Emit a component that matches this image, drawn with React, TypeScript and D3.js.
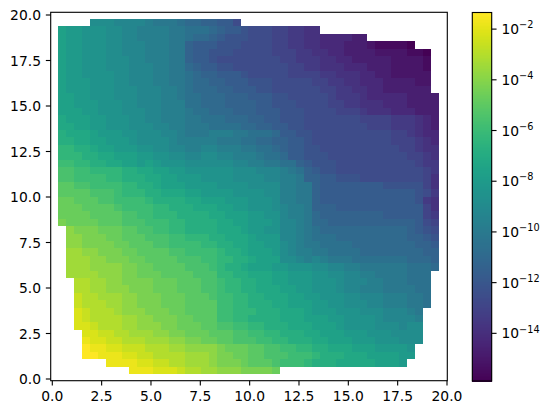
import React from "react";
import * as d3 from "d3";

// One code per cell (0-9a-z): heat level, '.' = no data. Spaces only group columns.
const levelRows = [
  ".... hhhg gggf eeed ccbb aa8. .... .... .... .... .... ....",
  "kjji iihh ggff ffee dddc baa9 8887 7665 5... .... .... ....",
  "kjji iihh ggff ffee dccb a999 8887 7665 5444 433. .... ....",
  "kjji iihh gggf ffee baaa 9998 8887 7665 5444 3332 1111 0...",
  "kjji iihh gggf ffee baa9 9988 8887 7766 5544 3333 2222 110.",
  "kjji iihh hggf ffee baa9 8888 8888 7766 6554 4333 3322 221.",
  "kjji iihh hggg ffee cbaa 9988 8888 8776 6555 4443 3322 221.",
  "kjji iiih hggg ffee dcbb aaa9 8888 8777 7665 5544 3322 222.",
  "kjjj iiih hggg ffee dccb baaa 9998 8888 7766 5544 4333 322.",
  "kjjj iiih hhgg gffe dccc bbaa a998 8888 8776 6554 4333 333.",
  "kkjj iiih hhgg gffe ddcc cbbb aaa9 9888 8876 6654 4444 3333",
  "kkjj jiii hhgg gfff ddcc cbbb baa9 9988 8877 6655 5444 3333",
  "kkkj jiii hhhg gfff eddc ccbb baaa 9998 8887 7765 5544 4333",
  "lkkk jjii ihhg gfff eedd dccc bbaa 9998 8888 8877 7766 6543",
  "llkk jjii ihhh ggff eeed dddc cbba a998 8888 8887 7766 6543",
  "mlll kjjj iihh hggf eeef ffee dddc aa99 8888 8888 8877 6544",
  "mmll kkjj jihh hhgf ffff eeed dccb baa9 8888 8888 8877 7654",
  "nnmm lkkj jjii hhgg ffgg fffe eddc baa9 9888 8888 8887 7655",
  "nnnm mllk kkjj iihh gghh ggff fedd caa9 9988 8888 8888 7765",
  "oonn mmll kkjk jiii hhhh hhgg ffee ddba 9998 8888 8888 8766",
  "ppoo nnnn mmll kkjj iiii iihh hggg fedb a998 8888 8888 8876",
  "ppoo oonn mmml lkkj jjii iihh hhgg ffeb baa9 9988 8888 8875",
  "qqpp oooo nnmm lkkk jjjj iiii hhhh ffee baaa aaaa a999 9975",
  "qqqq pppo nnnm mlll kkjj jjii iihh ffee baaa aaaa aaaa a986",
  "rrqq qppo ooon mmmm llkk kjjj iiih ffee baaa aaaa aaaa a965",
  "rrrq qqqp oooo nnmm mlll kkjj iiih gffe bbba aaaa aaaa aa75",
  "rrrr qqqq ppoo nnnm mmml lkkk jjii gffe cbbb bbbb baaa aa76",
  "srrr rqqq pppo oonn mmmm llkk jjji ggfe ccbb bbbb bbbb ba87",
  ".tss srrr qqpp oonn mmmm lllk jjii ggfe dccc cccc cccc ba98",
  ".tts ssrr qqqp ppoo nnnm mlll kjjj ggfe dddc cccc cccc bba9",
  ".tts sssr rqqq ppoo oonn mmll kkjj hgfe eddd dccc cccc cbba",
  ".uut tsss rrqq qqpp oooo nmml kkkj hgff eedd ddcc cccc ccbb",
  ".uuu ttss srrq qqqp ppoo nnmm lkkk hhgf gfee eddd dddd cccb",
  ".uuu tttt ssrr qqqq pppo nmml kkkj jiii hhgg ffee eeee dddc",
  ".uuu uttt ssrr rqqq qppp nnmm lllk kjjj iihh ggff eeee ddd.",
  "..vv uutt ssss rrrq qqpp onnm mllk kjjj iiih gggf feee ddd.",
  "..vv uutt tsss rrrq qqpp onnm mlll kkjj iiih ggff feee edd.",
  "..wv vuuu ttss srrr qqqp oonn mmll lkkj jiii hhgg gfff eed.",
  "..wv vvuu ttss srrr qqqq oonn mmml lkkk jjii hhhg gfff eed.",
  "..xw vvvu ttts ssrr qqqq oonn nmmm lllk jjji iihh hggg fe..",
  "..xw vvvv uutt sssr rqqq oonn mmmm lllk kkjj iiii hggg gf..",
  "..xx wvvv uutt tssr rrqq ppoo nnmm mlll kkkj iiii hhhg hh..",
  "...x xwwv vuuu ttss rrrq qqpp oonn mmml lkkk jjji iihh hh..",
  "...y xxww vvvu uutt ssrr qqpp poon nmmm llkk kjjj iiih hh..",
  "...z yyxx wwwv vvuu tttt srrr qqpp oonn mmll lkkk jjjj i...",
  "...z zyyy xxww vvvv uuut ssrr qqpp pooo nmmm lllk kkkj j...",
  ".... ..yy yyxx wwvv uuut sssr qqqp ooon mmml llll kkkj ....",
  ".... .... .yyy xxxw vvuu ttts sssr .... .... .... .... ....",
];

const xTicks = [0, 2.5, 5, 7.5, 10, 12.5, 15, 17.5, 20];
const yTicks = [0, 2.5, 5, 7.5, 10, 12.5, 15, 17.5, 20];
const colorbarExponents = [-2, -4, -6, -8, -10, -12, -14];
const minExponent = -15.88;
const maxExponent = -1.345;
const levelCount = 35;
const codes = "0123456789abcdefghijklmnopqrstuvwxyz";

const W = 549;
const H = 415;
const FONT = "'DejaVu Sans'";
const FS = 13.89;

const box = { l: 50.7, r: 447.3, t: 12.3, b: 380.7 };
const x = d3.scaleLinear().domain([0, 20]).range([52.3, 447]);
const y = d3.scaleLinear().domain([0, 20]).range([379, 15]);
const xGrid = d3.scaleLinear().domain([0, 48]).range([0.29, 19.59]);
const yGrid = d3.scaleLinear().domain([0, 48]).range([19.78, 0.27]);
const color = d3
  .scaleSequentialLog(d3.interpolateViridis)
  .domain([Math.pow(10, minExponent), Math.pow(10, maxExponent)]);

const cb = { l: 472.3, r: 491.7, t: 12.5, b: 381 };
const cbY = d3.scaleLinear().domain([minExponent, maxExponent]).range([cb.b, cb.t]);

const cells = levelRows.flatMap((row, r) => {
  const chars = row.replace(/ /g, "").split("");
  return chars.flatMap((ch, c) => {
    if (ch === ".") return [];
    const exponent = minExponent + (codes.indexOf(ch) / levelCount) * (maxExponent - minExponent);
    return [{ r, c, value: Math.pow(10, exponent) }];
  });
});

export default function App() {
  const tick = 4.86;
  const pad = 4.86;
  return (
    <svg
      width={W}
      height={H}
      viewBox={`0 0 ${W} ${H}`}
      style={{ position: "absolute", left: 0, top: 0, background: "#fff" }}
      fontFamily={FONT}
      fontSize={FS}
    >
      <g shapeRendering="crispEdges">
        {cells.map((d) => (
          <rect
            key={`${d.r}-${d.c}`}
            x={x(xGrid(d.c))}
            y={y(yGrid(d.r))}
            width={x(xGrid(d.c + 1)) - x(xGrid(d.c))}
            height={y(yGrid(d.r + 1)) - y(yGrid(d.r))}
            fill={color(d.value)}
          />
        ))}
      </g>
      <rect
        x={box.l}
        y={box.t}
        width={box.r - box.l}
        height={box.b - box.t}
        fill="none"
        stroke="#000"
        strokeWidth={1.11}
      />
      {xTicks.map((t) => (
        <g key={t} transform={`translate(${x(t)},${box.b})`}>
          <line y2={tick} stroke="#000" strokeWidth={1.11} />
          <text y={tick + pad + 10.2} textAnchor="middle" fill="#000">
            {t.toFixed(1)}
          </text>
        </g>
      ))}
      {yTicks.map((t) => (
        <g key={t} transform={`translate(${box.l},${y(t)})`}>
          <line x2={-tick} stroke="#000" strokeWidth={1.11} />
          <text x={-tick - pad} y={5} textAnchor="end" fill="#000">
            {t.toFixed(1)}
          </text>
        </g>
      ))}
      <g shapeRendering="crispEdges">
        {d3.range(256).map((i) => {
          const a = minExponent + (i / 256) * (maxExponent - minExponent);
          const b = minExponent + ((i + 1) / 256) * (maxExponent - minExponent);
          return (
            <rect
              key={i}
              x={cb.l}
              y={cbY(b)}
              width={cb.r - cb.l}
              height={cbY(a) - cbY(b) + 0.5}
              fill={d3.interpolateViridis((i + 0.5) / 256)}
            />
          );
        })}
      </g>
      <rect
        x={cb.l}
        y={cb.t}
        width={cb.r - cb.l}
        height={cb.b - cb.t}
        fill="none"
        stroke="#000"
        strokeWidth={1.11}
      />
      {colorbarExponents.map((e) => (
        <g key={e} transform={`translate(${cb.r},${cbY(e)})`}>
          <line x2={tick} stroke="#000" strokeWidth={1.11} />
          <text x={tick + pad} y={5} fill="#000">
            10
            <tspan dy={-5.8} fontSize={FS * 0.7}>
              {`\u2212${Math.abs(e)}`}
            </tspan>
          </text>
        </g>
      ))}
    </svg>
  );
}
